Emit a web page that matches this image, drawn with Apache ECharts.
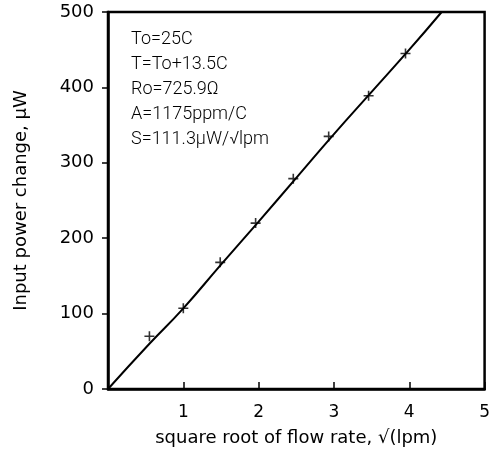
<!DOCTYPE html>
<html>
<head>
<meta charset="utf-8">
<script src="https://cdn.jsdelivr.net/npm/echarts@6/dist/echarts.min.js"></script>
<style>
  html, body { margin: 0; padding: 0; background: #fff; }
  #chart { width: 493px; height: 452px; }
</style>
</head>
<body>
<div id="chart"></div>
<script>
  // measured points (sqrt flow, power change)
  var flowRoot = [0.55, 1.0, 1.49, 1.96, 2.46, 2.93, 3.46, 3.95];
  var powerChange = [70, 107, 168, 220, 279, 335, 389, 445];

  // fitted curve
  var fitX = [0, 0.55, 1, 1.5, 2, 2.5, 3, 3.5, 4, 4.43];
  var fitY = [0, 60, 107, 165, 222, 280, 338, 394, 450, 500];

  var notes = ['To=25C', 'T=To+13.5C', 'Ro=725.9Ω', 'A=1175ppm/C', 'S=111.3μW/√lpm'];

  var xTicks = [0, 1, 2, 3, 4, 5];
  var yTicks = [0, 100, 200, 300, 400, 500];

  var font = 'DejaVu Sans';
  var plus = 'path://M-1,-0.16H1V0.16H-1Z M-0.16,-1H0.16V1H-0.16Z';

  var chart = echarts.init(document.getElementById('chart'));
  chart.setOption({
    animation: false,
    grid: {
      left: 108, right: 5, top: 12, bottom: 62,
      show: true, borderColor: '#000', borderWidth: 2.5
    },
    xAxis: {
      type: 'value',
      min: xTicks[0], max: xTicks[xTicks.length - 1], interval: 1,
      name: 'square root of flow rate, √(lpm)',
      nameLocation: 'middle', nameGap: 40,
      nameTextStyle: { color: '#000', fontFamily: font, fontSize: 18 },
      axisLine: { lineStyle: { color: '#000', width: 2.5 } },
      axisTick: { inside: true, length: 7, lineStyle: { color: '#000', width: 1.5 } },
      axisLabel: {
        color: '#000', fontFamily: font, fontSize: 17, margin: 15,
        formatter: function (v) { return v === 0 ? '' : v; }
      },
      splitLine: { show: false }
    },
    yAxis: {
      type: 'value',
      min: yTicks[0], max: yTicks[yTicks.length - 1], interval: 100,
      name: 'Input power change, μW',
      nameLocation: 'middle', nameGap: 78,
      nameTextStyle: { color: '#000', fontFamily: font, fontSize: 18 },
      axisLine: { lineStyle: { color: '#000', width: 2.5 } },
      axisTick: { inside: false, length: 6, lineStyle: { color: '#000', width: 1.5 } },
      axisLabel: { color: '#000', fontFamily: font, fontSize: 18, margin: 14 },
      splitLine: { show: false }
    },
    graphic: [{
      type: 'text',
      left: 131, top: 27,
      style: {
        text: notes.join('\n'),
        fontFamily: 'Roboto', fontWeight: 300, fontSize: 18,
        lineHeight: 25, fill: '#000'
      }
    }],
    series: [
      {
        type: 'line',
        data: fitX.map(function (x, i) { return [x, fitY[i]]; }),
        smooth: true,
        showSymbol: false,
        lineStyle: { color: '#000', width: 2 }
      },
      {
        type: 'scatter',
        data: flowRoot.map(function (x, i) { return [x, powerChange[i]]; }),
        symbol: plus,
        symbolSize: 10,
        itemStyle: { color: '#000' }
      }
    ]
  });
</script>
</body>
</html>
